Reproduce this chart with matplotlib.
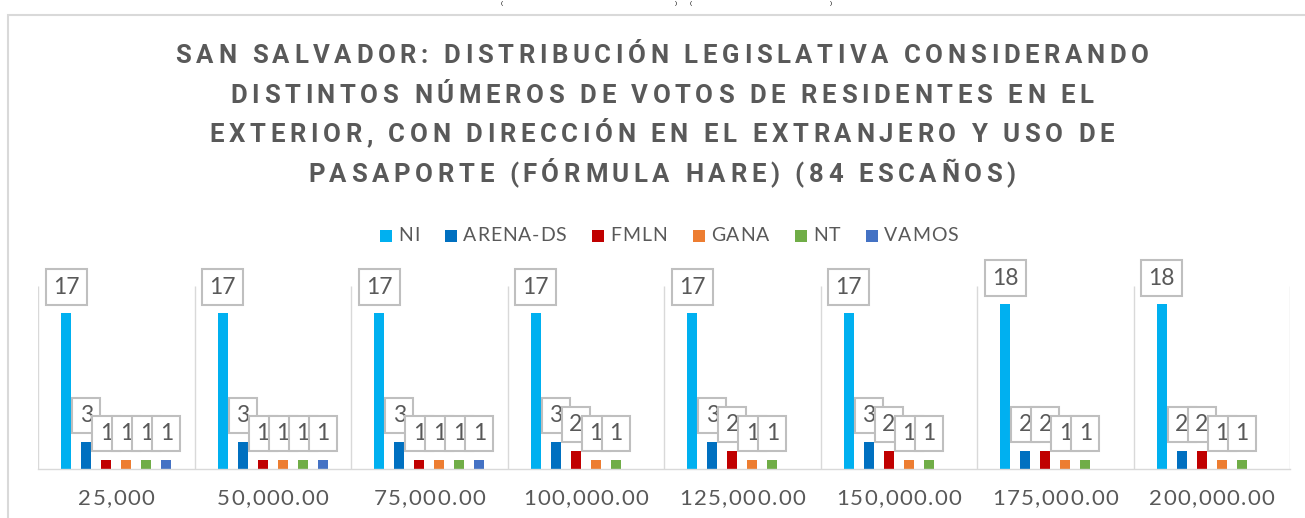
import numpy as np
import matplotlib
matplotlib.use("Agg")
import matplotlib.pyplot as plt
from matplotlib.font_manager import FontProperties, findfont
from matplotlib.ft2font import FT2Font
from matplotlib.patches import Rectangle

# ---------------- data ----------------
categories = ["25,000", "50,000.00", "75,000.00", "100,000.00",
              "125,000.00", "150,000.00", "175,000.00", "200,000.00"]
series_names = ["NI", "ARENA-DS", "FMLN", "GANA", "NT", "VAMOS"]
ni = [17, 17, 17, 17, 17, 17, 18, 18]
arena_ds = [3, 3, 3, 3, 3, 3, 2, 2]
fmln = [1, 1, 1, 2, 2, 2, 2, 2]
gana = [1, 1, 1, 1, 1, 1, 1, 1]
nt = [1, 1, 1, 1, 1, 1, 1, 1]
vamos = [1, 1, 1, None, None, None, None, None]
series_values = [ni, arena_ds, fmln, gana, nt, vamos]
colors = ["#00B0F0", "#0070C0", "#C00000", "#ED7D31", "#70AD47", "#4472C4"]
title_lines = ["SAN SALVADOR: DISTRIBUCIÓN LEGISLATIVA CONSIDERANDO",
               "DISTINTOS NÚMEROS DE VOTOS DE RESIDENTES EN EL",
               "EXTERIOR, CON DIRECCIÓN EN EL EXTRANJERO Y USO DE",
               "PASAPORTE (FÓRMULA HARE) (84 ESCAÑOS)"]

# ---------------- layout ----------------
W, H, DPI = 1305, 518, 100
fig = plt.figure(figsize=(W / DPI, H / DPI), dpi=DPI)
fig.patch.set_facecolor("white")

GRAY_TXT = "#595959"
LINE = "#D9D9D9"

fp_title = FontProperties(family="Roboto", weight="bold")
fp_text = FontProperties(family="Lato")


def advances(s, fp, size):
    font = FT2Font(findfont(fp))
    font.set_size(size, DPI)
    return [font.load_char(ord(c)).linearHoriAdvance / 65536.0 for c in s]


def spaced(s, x, ybase, fp, size, spacing=None, width=None, ha="center",
           color=GRAY_TXT, dry=False):
    adv = advances(s, fp, size)
    if width is not None:
        spacing = (width - sum(adv)) / (len(s) - 1)
    total = sum(adv) + spacing * (len(s) - 1)
    pen = x - total / 2 if ha == "center" else x
    if not dry:
        for c, a in zip(s, adv):
            if c != " ":
                fig.text((pen + a / 2) / W, 1 - ybase / H, c, ha="center",
                         va="baseline", fontproperties=fp, fontsize=size,
                         color=color)
            pen += a + spacing
    return spacing, total


# outer chart frame (partially cut by the image edge)
fig.add_artist(Rectangle((8 / W, -0.2), 1.5, 1.2 - 15 / H, transform=fig.transFigure,
                         fill=False, ec=LINE, lw=1.5, clip_on=False))

# small bracket fragments visible at the very top of the reference image
for px, ch in [(502, "("), (676, ")"), (691, "("), (831, ")")]:
    fig.text(px / W, 1 - 0.5 / H, ch, ha="center", va="top",
             fontsize=4.5, color="#000000", family="Liberation Sans")

# title
TSIZE = 18.5
sp, _ = spaced(title_lines[0], 662, 63, fp_title, TSIZE, width=973, dry=True)
for i, line in enumerate(title_lines):
    spaced(line, 662, 63 + 39.7 * i, fp_title, TSIZE, spacing=sp)

# plot area
ax = fig.add_axes([38 / W, 1 - 469 / H, (1290 - 38) / W, (469 - 286) / H])
ax.set_xlim(-0.5, len(categories) - 0.5)
ax.set_ylim(0, 20)
for s in ["left", "right", "top"]:
    ax.spines[s].set_visible(False)
ax.spines["bottom"].set_color(LINE)
ax.spines["bottom"].set_linewidth(1.0)
ax.set_xticks([])
ax.set_yticks([])
ax.set_facecolor("none")
ax.vlines(np.arange(len(categories) + 1) - 0.5, 0, 20, colors=LINE, lw=1.0, zorder=0)

x = np.arange(len(categories))
slot = 20 / 156.5
bw = 10 / 156.5
n = len(series_names)
for i, (name, vals, col) in enumerate(zip(series_names, series_values, colors)):
    v = np.array([np.nan if a is None else a for a in vals], dtype=float)
    off = (i - (n - 1) / 2) * slot
    ax.bar(x + off, v, width=bw, color=col, zorder=2, label=name)
    for xi, val in zip(x, vals):
        if val is None:
            continue
        ax.annotate(str(val), xy=(xi + off, val), xytext=(0, 11.3),
                    textcoords="offset points", ha="center", va="bottom",
                    fontproperties=fp_text, fontsize=16.5, color=GRAY_TXT,
                    bbox=dict(boxstyle="square,pad=0.32", fc="white",
                              ec="#BFBFBF", lw=1.5),
                    zorder=5, annotation_clip=False)

# category labels (letter-spaced)
TKS = 16
tsp, _ = spaced("125,000.00", 0, 0, fp_text, TKS, width=126, dry=True)
for xi, lab in zip(x, categories):
    px = ax.transData.transform((xi, 0))[0]
    spaced(lab, px, 505, fp_text, TKS, spacing=tsp)

# legend (drawn manually to reproduce spacing)
LS = 14
lsp, _ = spaced("ARENA-DS", 0, 0, fp_text, LS, width=103, dry=True)
sq, gap1, gap2 = 12, 6, 26
widths = [spaced(nm, 0, 0, fp_text, LS, spacing=lsp, dry=True)[1] for nm in series_names]
total = sum(sq + gap1 + w for w in widths) + gap2 * (n - 1)
pen = 669 - total / 2
for nm, col, w in zip(series_names, colors, widths):
    fig.add_artist(Rectangle((pen / W, 1 - 241.5 / H), sq / W, sq / H,
                             transform=fig.transFigure, fc=col, ec="none"))
    pen += sq + gap1
    spaced(nm, pen, 241, fp_text, LS, spacing=lsp, ha="left")
    pen += w + gap2

fig.savefig("out.png", dpi=DPI)
